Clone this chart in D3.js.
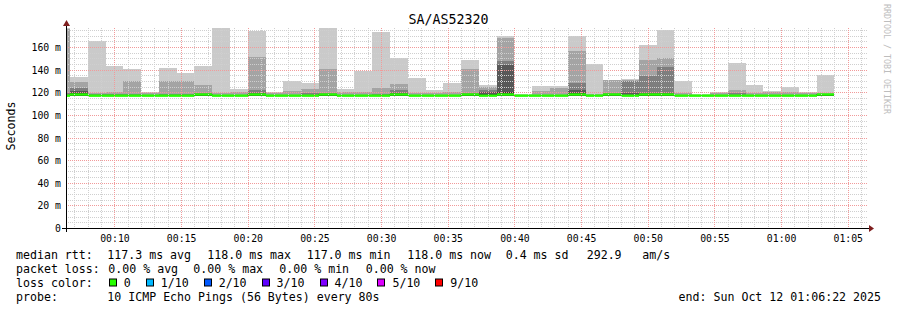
<!DOCTYPE html>
<html>
<head>
<meta charset="utf-8">
<script src="https://cdn.jsdelivr.net/npm/d3@7"></script>
<style>
  html, body { margin: 0; padding: 0; background: #fff; }
  text { font-family: "DejaVu Sans Mono", monospace; white-space: pre; }
</style>
</head>
<body>
<svg id="chart" width="897" height="310"></svg>
<script>
// time window and slots (rrd step 80s)
const windowStart = "2025-10-12T00:06:22Z";
const windowEnd = "2025-10-12T01:06:22Z";
const firstSlot = "2025-10-12T00:05:20Z";
const stepSeconds = 80;

// sorted pings per slot (ms)
const medianRtt = [117, 118, 117, 117, 117, 117, 117, 117, 118, 117, 117, 118, 117, 117, 117, 118, 117, 117, 117, 118, 117, 117, 117, 118,
  117, 118, 117, 117, 117, 118, 117, 118, 117, 118, 118, 117, 117, 117, 117, 117, 117, 117, 117, 118];
const maxRtt = [180, 133.2, 165.3, 143.5, 140.6, 120.5, 141.5, 137.3, 143.5, 180, 122.9, 174.2, 120.2, 130.0, 128.5, 180, 122.6, 139.1,
  173.3, 150.0, 132.6, 122.0, 128.2, 148.5, 126.4, 169.8, 118.8, 125.8, 125.8, 169.8, 145.0, 131.2, 131.7, 161.8, 175.1, 130.0, 118.3,
  120.2, 145.9, 126.4, 121.1, 124.7, 120.5, 135.3];
const ping9 = [176.0, 129.1, 119.5, 120.0, 130.0, 119.0, 130.0, 130.0, 126.4, 119.0, 120.5, 151.2, 119.0, 121.0, 122.6, 140.6, 119.8, 120.2,
  123.8, 127.3, 119.5, 119.0, 120.5, 140.6, 124.4, 168.0, 118.0, 121.1, 123.5, 156.5, 118.5, 130.9, 130.5, 148.5, 150.3, 119.0, 117.8,
  119.0, 122.0, 119.0, 120.0, 120.2, 119.0, 119.0];
const ping8 = [119.0, 123.8, 118.5, 118.5, 118.8, 118.0, 118.5, 118.5, 119.0, 118.0, 118.0, 122.0, 118.0, 118.0, 119.0, 119.1, 118.0, 118.0,
  118.5, 122.0, 118.0, 118.0, 118.0, 119.0, 122.0, 147.7, 117.8, 118.0, 118.0, 128.2, 118.0, 119.0, 130.0, 134.4, 142.4, 118.0, 117.6,
  118.0, 119.0, 118.0, 118.0, 118.0, 118.0, 118.0];
const ping7 = [118.0, 121.4, 118.0, 118.0, 118.0, 117.8, 118.0, 118.0, 118.5, 117.8, 117.8, 119.0, 117.8, 117.8, 118.0, 118.5, 117.8, 117.8,
  117.8, 119.0, 117.8, 117.8, 117.8, 118.5, 120.2, 144.1, 117.5, 117.8, 117.8, 122.0, 117.8, 118.5, 119.0, 119.0, 119.0, 117.8, 117.5,
  117.8, 118.0, 117.8, 117.8, 117.8, 117.8, 117.8];
const ping6 = [117.8, 119.0, 117.8, 117.8, 117.8, 117.6, 117.8, 117.8, 118.2, 117.5, 117.5, 118.5, 117.5, 117.5, 117.5, 118.2, 117.5, 117.5,
  117.5, 118.5, 117.5, 117.5, 117.5, 118.2, 118.5, 120.0, 117.3, 117.5, 117.5, 119.0, 117.5, 118.2, 118.0, 118.5, 118.5, 117.5, 117.3,
  117.5, 117.5, 117.5, 117.5, 117.5, 117.5, 117.5];
const minRtt = [116.8, 116.9, 116.7, 116.8, 116.8, 116.7, 116.8, 116.8, 116.9, 116.7, 116.8, 116.9, 116.7, 116.8, 116.8, 116.9, 116.7, 116.8,
  116.8, 116.9, 116.7, 116.8, 116.8, 116.9, 116.6, 116.9, 116.7, 116.8, 116.8, 116.9, 116.7, 116.9, 116.8, 116.9, 116.9, 116.7, 116.8,
  116.8, 116.7, 116.8, 116.8, 116.7, 116.8, 116.9];

const yTickValues = [0, 20, 40, 60, 80, 100, 120, 140, 160];
const yTickLabels = ["0", "20 m", "40 m", "60 m", "80 m", "100 m", "120 m", "140 m", "160 m"];
const yMax = 176.8;

const lossLabels = ["0", "1/10", "2/10", "3/10", "4/10", "5/10", "9/10"];
const lossColors = ["#26ff00", "#00b8ff", "#0059ff", "#5e00ff", "#7e00ff", "#dd00ff", "#ff0000"];
const smokeColors = ["#cacaca", "#a4a4a4", "#7e7e7e", "#585858", "#323232"];

const rttItems = ["median rtt:", "117.3 ms avg", "118.0 ms max", "117.0 ms min", "118.0 ms now", "0.4 ms sd", "292.9", "am/s"];
const lossItems = ["packet loss:", "0.00 % avg", "0.00 % max", "0.00 % min", "0.00 % now"];
const probeItems = ["probe:", "10 ICMP Echo Pings (56 Bytes) every 80s"];
const lossColorTitle = "loss color:";
const endLabel = "end: Sun Oct 12 01:06:22 2025";

// ---- layout
const svg = d3.select("#chart");
const W = 897, H = 310;
const plotLeft = 66, plotRight = 866, plotTop = 28, plotBottom = 228;

svg.append("rect").attr("width", W).attr("height", H).attr("fill", "#fff");

const x = d3.scaleUtc().domain([new Date(windowStart), new Date(windowEnd)]).range([plotLeft, plotRight]);
const y = d3.scaleLinear().domain([0, yMax]).range([plotBottom, plotTop]);

const slots = medianRtt.map((m, i) => {
  const t0 = new Date(+new Date(firstSlot) + i * stepSeconds * 1000);
  const t1 = new Date(+t0 + stepSeconds * 1000);
  return { t0, t1, median: m, min: minRtt[i], tops: [maxRtt[i], ping9[i], ping8[i], ping7[i], ping6[i]] };
});

svg.append("clipPath").attr("id", "plotclip")
  .append("rect").attr("x", plotLeft).attr("y", plotTop).attr("width", plotRight - plotLeft).attr("height", plotBottom - plotTop);

// ---- smoke
const plot = svg.append("g").attr("clip-path", "url(#plotclip)");
smokeColors.forEach((col, k) => {
  plot.append("g").selectAll("rect").data(slots).join("rect")
    .attr("x", d => Math.round(x(d.t0)))
    .attr("width", d => Math.round(x(d.t1)) - Math.round(x(d.t0)))
    .attr("y", d => y(d.tops[k]))
    .attr("height", d => Math.max(0, y(d.min) - y(d.tops[k])))
    .attr("fill", col)
    .attr("shape-rendering", "crispEdges");
});

// ---- grid
const grid = svg.append("g").attr("shape-rendering", "crispEdges");
const minorY = d3.range(5, yMax, 5).filter(v => v % 20 !== 0);
const majorY = yTickValues.filter(v => v > 0);
const minorX = d3.utcMinute.every(1).range(x.domain()[0], x.domain()[1]).filter(t => t.getUTCMinutes() % 5 !== 0);
const majorX = d3.utcMinute.every(5).range(x.domain()[0], x.domain()[1]);

grid.selectAll(".gy").data(minorY).join("line")
  .attr("x1", plotLeft).attr("x2", plotRight + 2)
  .attr("y1", d => Math.round(y(d)) + 0.5).attr("y2", d => Math.round(y(d)) + 0.5)
  .attr("stroke", "#cfcfcf").attr("stroke-dasharray", "1,1");
grid.selectAll(".gx").data(minorX).join("line")
  .attr("x1", d => Math.round(x(d)) + 0.5).attr("x2", d => Math.round(x(d)) + 0.5)
  .attr("y1", plotTop).attr("y2", plotBottom)
  .attr("stroke", "#cfcfcf").attr("stroke-dasharray", "1,1");
grid.selectAll(".my").data(majorY).join("line")
  .attr("x1", plotLeft).attr("x2", plotRight + 2)
  .attr("y1", d => Math.round(y(d)) + 0.5).attr("y2", d => Math.round(y(d)) + 0.5)
  .attr("stroke", "#f19a9a").attr("stroke-dasharray", "1,1");
grid.selectAll(".mx").data(majorX).join("line")
  .attr("x1", d => Math.round(x(d)) + 0.5).attr("x2", d => Math.round(x(d)) + 0.5)
  .attr("y1", plotTop).attr("y2", plotBottom)
  .attr("stroke", "#f19a9a").attr("stroke-dasharray", "1,1");

// ---- median line and loss coloured band
const stepLine = d3.line().curve(d3.curveStepAfter).x(d => x(d[0])).y(d => y(d[1]));
const pts = slots.map(d => [d.t0, d.median]);
pts.push([slots[slots.length - 1].t1, slots[slots.length - 1].median]);
plot.append("path").attr("d", stepLine(pts))
  .attr("fill", "none").attr("stroke", "#202020").attr("stroke-width", 1);

const swidth = yMax / (plotBottom - plotTop);
plot.append("g").selectAll("rect").data(slots).join("rect")
  .attr("x", d => Math.round(x(d.t0)))
  .attr("width", d => Math.round(x(d.t1)) - Math.round(x(d.t0)))
  .attr("y", d => y(d.median + swidth * 1.2))
  .attr("height", d => y(d.median - swidth * 1.2) - y(d.median + swidth * 1.2))
  .attr("fill", lossColors[0]);

// ---- axes
const axis = svg.append("g").attr("shape-rendering", "crispEdges");
axis.append("line").attr("x1", 62).attr("x2", plotRight + 3).attr("y1", plotBottom + 0.5).attr("y2", plotBottom + 0.5).attr("stroke", "#000");
axis.append("line").attr("x1", plotLeft + 0.5).attr("x2", plotLeft + 0.5).attr("y1", 24).attr("y2", plotBottom + 4).attr("stroke", "#000");
svg.append("path").attr("d", `M${plotLeft - 3},${plotTop - 2}L${plotLeft + 4},${plotTop - 2}L${plotLeft + 0.5},${plotTop - 8}Z`).attr("fill", "#7f1f1f");
svg.append("path").attr("d", `M${plotRight + 3},${plotBottom - 3}L${plotRight + 3},${plotBottom + 4}L${plotRight + 8},${plotBottom + 0.5}Z`).attr("fill", "#7f1f1f");

svg.append("g").selectAll("text").data(majorX).join("text")
  .attr("x", d => x(d) + 0.5).attr("y", plotBottom + 14)
  .attr("text-anchor", "middle").attr("font-size", "9.8px").attr("fill", "#000")
  .text(d => d3.utcFormat("%H:%M")(d));

svg.append("g").selectAll("text").data(yTickValues).join("text")
  .attr("x", 61).attr("y", d => y(d) + 4)
  .attr("text-anchor", "end").attr("font-size", "9.8px").attr("fill", "#000")
  .text((d, i) => yTickLabels[i]);

// ---- titles
svg.append("text").attr("x", 448.5).attr("y", 24).attr("text-anchor", "middle")
  .attr("font-size", "13.3px").attr("fill", "#000").text("SA/AS52320");
svg.append("text").attr("transform", "translate(15,126) rotate(-90)").attr("text-anchor", "middle")
  .attr("font-size", "11.6px").attr("fill", "#000").text("Seconds");
svg.append("text").attr("transform", "translate(884,4) rotate(90)")
  .attr("font-size", "8.3px").attr("fill", "#bdbdbd").text("RRDTOOL / TOBI OETIKER");

// ---- legend (rrdtool places each item on its own)
const legend = svg.append("g").attr("font-size", "11.6px").attr("fill", "#000");
const rowY = i => 258.5 + i * 14;
const rttX = [16, 107.3, 207.3, 306.7, 407.3, 505.7, 586.7, 642.3];
const lossX = [16, 108.3, 193.3, 279.3, 365.7];
const probeX = [16, 107.3];

[[rttItems, rttX], [lossItems, lossX], [[lossColorTitle], [16]], [probeItems, probeX]].forEach(([items, xs], r) => {
  legend.append("g").selectAll("text").data(items).join("text")
    .attr("x", (d, i) => xs[i]).attr("y", rowY(r)).text(d => d);
});
legend.append("text").attr("x", 881).attr("y", rowY(3)).attr("text-anchor", "end").text(endLabel);

const probe = legend.append("text").attr("x", -100).attr("y", -100).text("0123456789");
const charW = probe.node().getComputedTextLength() / 10;
probe.remove();

let cx = 16 + charW * 13 + 2;
lossLabels.forEach((lab, i) => {
  legend.append("rect").attr("x", Math.round(cx) + 0.5).attr("y", rowY(2) - 7.5).attr("width", 7).attr("height", 7)
    .attr("fill", lossColors[i]).attr("stroke", "#000").attr("stroke-width", 1);
  const t = legend.append("text").attr("x", cx + 15).attr("y", rowY(2)).text(lab);
  cx = cx + 15 + t.node().getComputedTextLength() + 15;
});
</script>
</body>
</html>
